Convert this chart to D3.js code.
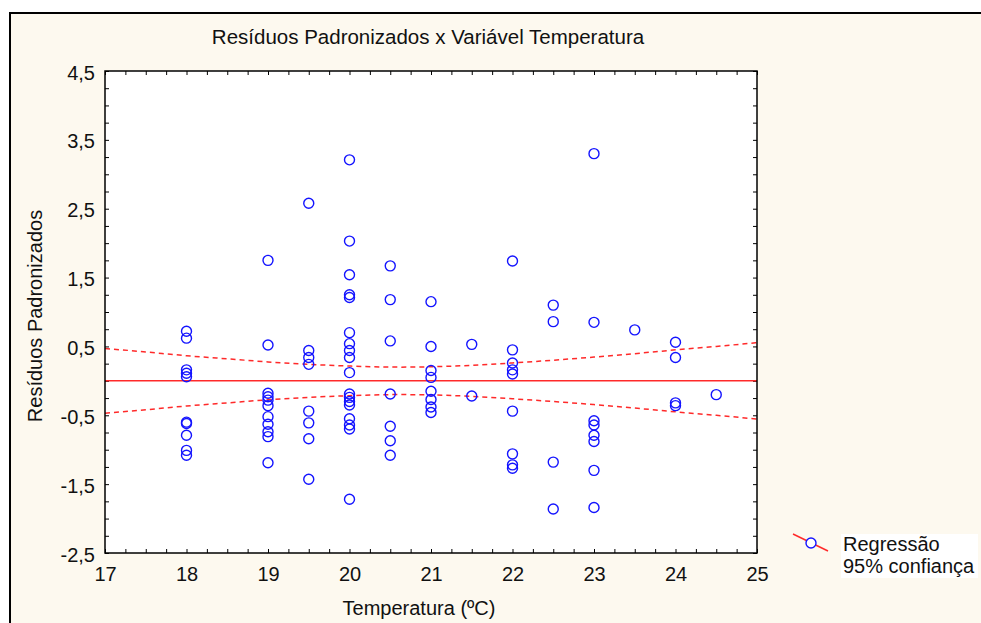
<!DOCTYPE html>
<html><head>
<meta charset="utf-8">
<title>Resíduos Padronizados x Variável Temperatura</title>
<script src="https://d3js.org/d3.v7.min.js"></script>
<style>
  body { margin: 0; background: #fff; }
  svg text { font-family: "Liberation Sans", Arial, sans-serif; fill: #111; }
</style>
</head>
<body>
<div id="chart"></div>
<script>

// Residuals per temperature
const temps = [18, 19, 19.5, 20, 20.5, 21, 21.5, 22, 22.5, 23, 23.5, 24, 24.5];
const residuals = [
  [0.72, 0.62, 0.16, 0.11, 0.06, -0.60, -0.62, -0.79, -1.01, -1.08],             // 18
  [1.75, 0.52, -0.18, -0.23, -0.28, -0.36, -0.52, -0.63, -0.74, -0.81, -1.19],    // 19
  [2.58, 0.44, 0.34, 0.24, -0.44, -0.61, -0.84, -1.43],                           // 19.5
  [3.21, 2.03, 1.54, 1.25, 1.21, 0.70, 0.54, 0.44, 0.34, 0.12,
   -0.19, -0.24, -0.30, -0.35, -0.55, -0.64, -0.70, -1.72],                      // 20
  [1.67, 1.18, 0.58, -0.19, -0.66, -0.87, -1.08],                                 // 20.5
  [1.15, 0.50, 0.15, 0.05, -0.15, -0.27, -0.38, -0.46],                           // 21
  [0.53, -0.22],                                                                  // 21.5
  [1.74, 0.45, 0.26, 0.16, 0.10, -0.44, -1.06, -1.22, -1.27],                     // 22
  [1.10, 0.86, -1.18, -1.86],                                                     // 22.5
  [3.30, 0.85, -0.58, -0.64, -0.79, -0.88, -1.30, -1.84],                         // 23
  [0.74],                                                                         // 23.5
  [0.56, 0.34, -0.32, -0.36],                                                     // 24
  [-0.20]                                                                         // 24.5
];

// 95% confidence band round the regression line (y = 0)
const ciX = [17, 17.5, 18, 18.5, 19, 19.5, 20, 20.5, 21, 21.5, 22, 22.5, 23, 23.5, 24, 24.5, 25];
const ciUpper = [0.47, 0.42, 0.365, 0.32, 0.275, 0.24, 0.215, 0.20, 0.205, 0.225, 0.26, 0.30, 0.345, 0.395, 0.45, 0.50, 0.555];
const ciLower = [-0.47, -0.42, -0.365, -0.32, -0.275, -0.24, -0.215, -0.20, -0.205, -0.225, -0.26, -0.30, -0.345, -0.395, -0.45, -0.50, -0.555];
const regression = [0, 0];

const xTickLabels = [17, 18, 19, 20, 21, 22, 23, 24, 25];
const yTickLabels = [4.5, 3.5, 2.5, 1.5, 0.5, -0.5, -1.5, -2.5];
const legendLabels = ["Regressão", "95% confiança"];

const width = 981, height = 623;
const plot = { left: 105, top: 71, right: 757, bottom: 553 };

const locale = d3.formatLocale({ decimal: ",", thousands: ".", grouping: [3], currency: ["", ""], minus: "-" });
const fmt1 = locale.format(".1f");

const svg = d3.select("#chart").append("svg")
  .attr("width", width)
  .attr("height", height);

// cream panel with a black frame
svg.append("rect")
  .attr("x", 10).attr("y", 13)
  .attr("width", width + 10).attr("height", height + 10)
  .attr("fill", "#fdf9ef")
  .attr("stroke", "#000")
  .attr("stroke-width", 2);

const xScale = d3.scaleLinear().domain([17, 25]).range([plot.left, plot.right]);
const yScale = d3.scaleLinear().domain([-2.5, 4.5]).range([plot.bottom, plot.top]);

svg.append("rect")
  .attr("x", plot.left).attr("y", plot.top)
  .attr("width", plot.right - plot.left).attr("height", plot.bottom - plot.top)
  .attr("fill", "#fff");

// minor ticks every 0.25 on all four sides, pointing inward
const xMinor = d3.range(17, 25.001, 0.25);
const yMinor = d3.range(-2.5, 4.501, 0.25);
const tickAxes = [
  [d3.axisBottom(xScale).tickValues(xMinor), "translate(0," + plot.bottom + ")"],
  [d3.axisTop(xScale).tickValues(xMinor), "translate(0," + plot.top + ")"],
  [d3.axisLeft(yScale).tickValues(yMinor), "translate(" + plot.left + ",0)"],
  [d3.axisRight(yScale).tickValues(yMinor), "translate(" + plot.right + ",0)"]
];
tickAxes.forEach(([ax, tr]) => {
  const g = svg.append("g").attr("transform", tr)
    .call(ax.tickSizeInner(-4).tickSizeOuter(0).tickFormat(""));
  g.select(".domain").remove();
  g.selectAll("line").attr("stroke", "#000").attr("stroke-width", 1);
});

// labels
const xLab = svg.append("g").attr("transform", "translate(0," + plot.bottom + ")")
  .call(d3.axisBottom(xScale).tickValues(xTickLabels).tickSize(0).tickPadding(14).tickFormat(d3.format("d")));
const yLab = svg.append("g").attr("transform", "translate(" + plot.left + ",0)")
  .call(d3.axisLeft(yScale).tickValues(yTickLabels).tickSize(0).tickPadding(10).tickFormat(fmt1));
[xLab, yLab].forEach(g => {
  g.select(".domain").remove();
  g.selectAll("text").attr("font-size", 20).attr("font-family", "'Liberation Sans', Arial, sans-serif").attr("fill", "#111");
});
yLab.selectAll("text").attr("dy", "0.4em");

const clip = svg.append("clipPath").attr("id", "plotClip")
  .append("rect")
  .attr("x", plot.left).attr("y", plot.top)
  .attr("width", plot.right - plot.left).attr("height", plot.bottom - plot.top);

const inner = svg.append("g").attr("clip-path", "url(#plotClip)");

// regression line and confidence band
inner.append("line")
  .attr("x1", xScale(17)).attr("x2", xScale(25))
  .attr("y1", yScale(regression[0])).attr("y2", yScale(regression[1]))
  .attr("stroke", "#ff2a2a").attr("stroke-width", 1.5);

const band = d3.line().x((d, i) => xScale(ciX[i])).y(d => yScale(d)).curve(d3.curveNatural);
[ciUpper, ciLower].forEach(arr => {
  inner.append("path")
    .attr("d", band(arr))
    .attr("fill", "none")
    .attr("stroke", "#ff2a2a")
    .attr("stroke-width", 1.5)
    .attr("stroke-dasharray", "5,4");
});

// points
const points = [];
temps.forEach((t, i) => residuals[i].forEach(r => points.push({ t: t, r: r })));
inner.selectAll("circle.pt").data(points).enter().append("circle")
  .attr("class", "pt")
  .attr("cx", d => xScale(d.t))
  .attr("cy", d => yScale(d.r))
  .attr("r", 5)
  .attr("fill", "none")
  .attr("stroke", "#1414ff")
  .attr("stroke-width", 1.4);

// plot frame
svg.append("rect")
  .attr("x", plot.left).attr("y", plot.top)
  .attr("width", plot.right - plot.left).attr("height", plot.bottom - plot.top)
  .attr("fill", "none")
  .attr("stroke", "#000")
  .attr("stroke-width", 1.5);

// titles
svg.append("text")
  .attr("x", 428).attr("y", 44)
  .attr("text-anchor", "middle")
  .attr("font-size", 20.5)
  .text("Resíduos Padronizados x Variável Temperatura");

svg.append("text")
  .attr("x", 419).attr("y", 615)
  .attr("text-anchor", "middle")
  .attr("font-size", 20)
  .text("Temperatura (ºC)");

svg.append("text")
  .attr("transform", "translate(42,316) rotate(-90)")
  .attr("text-anchor", "middle")
  .attr("font-size", 20)
  .text("Resíduos Padronizados");

// legend
const legend = svg.append("g");
legend.append("rect")
  .attr("x", 841).attr("y", 534)
  .attr("width", 137).attr("height", 44)
  .attr("fill", "#fff");
legend.append("line")
  .attr("x1", 793).attr("y1", 534).attr("x2", 828).attr("y2", 551)
  .attr("stroke", "#ff2a2a").attr("stroke-width", 1.5);
legend.append("circle")
  .attr("cx", 811).attr("cy", 543).attr("r", 5)
  .attr("fill", "#fff").attr("stroke", "#1414ff").attr("stroke-width", 1.4);
legend.selectAll("text.leg").data(legendLabels).enter().append("text")
  .attr("class", "leg")
  .attr("x", 843)
  .attr("y", (d, i) => 551 + i * 22)
  .attr("font-size", 20)
  .text(d => d);

</script>
</body>
</html>
